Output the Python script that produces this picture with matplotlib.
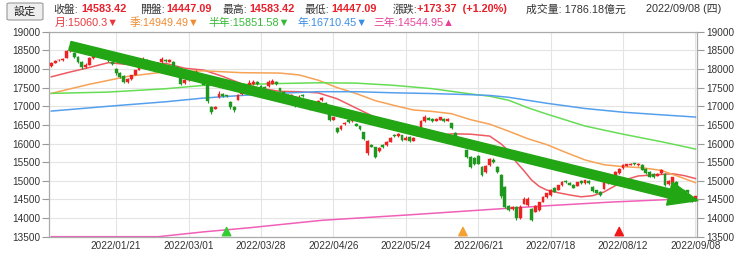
import numpy as np
import matplotlib
matplotlib.use("Agg")
import matplotlib.pyplot as plt
from matplotlib.patches import FancyBboxPatch

plt.rcParams['font.family'] = ['Liberation Sans', 'Noto Sans CJK TC', 'DejaVu Sans']

# daily candles, 2022/01 .. 2022/09/08
opens = [18080, 18170, 18230, 18240, 18300, 18480, 18420, 18330, 18200, 18050,
         18120, 18300, 18420, 18370, 18450, 18300, 18200, 18000, 17900, 17820,
         17660, 17720, 17850, 17980, 18160, 18240, 18180, 18100, 18070, 18180,
         18250, 18200, 18200, 18060, 17850, 17620, 17700, 17790, 17860, 17870,
         17800, 17570, 16980, 16930, 17240, 17320, 17290, 17120, 16980, 17180,
         17320, 17460, 17560, 17600, 17640, 17550, 17510, 17540, 17600, 17650,
         17480, 17390, 17290, 17250, 17250, 17190, 17310, 17120, 17020, 16980,
         17080, 17160, 17100, 16780, 16640, 16420, 16380, 16520, 16620, 16600,
         16520, 16460, 16300, 15750, 15960, 15900, 15800, 15960, 15950, 16050,
         16230, 16190, 16220, 16100, 16170, 16080, 16200, 16360, 16600, 16690,
         16650, 16610, 16640, 16660, 16610, 16540, 16280, 16090, 16050, 15820,
         15640, 15620, 15660, 15370, 15240, 15420, 15560, 15370, 15150, 14830,
         14330, 14230, 14300, 14000, 14390, 14350, 14250, 14170, 14220, 14440,
         14560, 14620, 14800, 14760, 14890, 14990, 14950, 14900, 14870, 15000,
         14940, 15000, 14830, 14740, 14700, 14790, 14930, 14980, 15100, 15200,
         15330, 15410, 15430, 15470, 15430, 15420, 15320, 15240, 15180, 15140,
         15200, 15190, 14920, 14920, 14970, 14790, 14740, 14740, 14550, 14447.09]
closes = [18170, 18220, 18250, 18270, 18470, 18580, 18330, 18180, 18040, 18110,
          18290, 18400, 18380, 18340, 18320, 18230, 18140, 17880, 17790, 17660,
          17720, 17830, 17960, 18150, 18260, 18200, 18100, 18060, 18160, 18280,
          18210, 18240, 18060, 17900, 17600, 17700, 17780, 17850, 17930, 17800,
          17580, 17150, 16850, 16990, 17330, 17280, 17270, 16970, 16900, 17300,
          17450, 17560, 17630, 17660, 17600, 17440, 17480, 17660, 17690, 17590,
          17420, 17290, 17250, 17310, 17010, 17260, 17280, 17040, 16930, 17060,
          17150, 17210, 17060, 16640, 16700, 16300, 16460, 16560, 16570, 16660,
          16480, 16380, 16120, 16060, 15920, 15650, 15880, 15910, 16050, 16150,
          16190, 16260, 16100, 16160, 16060, 16160, 16310, 16600, 16720, 16640,
          16600, 16660, 16700, 16600, 16660, 16420, 16150, 16040, 15960, 15650,
          15380, 15450, 15460, 15160, 15400, 15590, 15510, 15240, 14580, 14300,
          14220, 14300, 14000, 14310, 14520, 14520, 13950, 14330, 14420, 14560,
          14660, 14740, 14710, 14880, 14970, 14960, 14900, 14820, 14960, 14940,
          15010, 14930, 14720, 14680, 14630, 14960, 15000, 15070, 15230, 15320,
          15420, 15440, 15460, 15440, 15460, 15300, 15210, 15110, 15100, 15190,
          15300, 14880, 14990, 15090, 14790, 14700, 14670, 14690, 14440, 14583.42]
highs = [18200, 18240, 18270, 18290, 18500, 18620, 18450, 18360, 18220, 18150,
         18310, 18420, 18470, 18400, 18520, 18330, 18220, 18020, 17930, 17840,
         17750, 17850, 17980, 18180, 18320, 18260, 18200, 18140, 18180, 18320,
         18270, 18260, 18220, 18080, 17870, 17740, 17820, 17880, 17960, 17900,
         17820, 17590, 17000, 17020, 17420, 17350, 17310, 17140, 17000, 17340,
         17500, 17590, 17700, 17700, 17680, 17570, 17530, 17700, 17720, 17670,
         17500, 17410, 17320, 17330, 17270, 17290, 17340, 17140, 17040, 17080,
         17170, 17240, 17120, 16800, 16720, 16440, 16490, 16580, 16640, 16700,
         16540, 16480, 16320, 16100, 15980, 15920, 15900, 15980, 16080, 16180,
         16250, 16290, 16240, 16190, 16190, 16180, 16340, 16640, 16760, 16710,
         16680, 16680, 16720, 16680, 16680, 16560, 16300, 16110, 16080, 15840,
         15660, 15640, 15690, 15390, 15430, 15620, 15600, 15390, 15170, 14850,
         14350, 14330, 14320, 14340, 14560, 14560, 14270, 14350, 14440, 14580,
         14680, 14770, 14830, 14900, 14990, 15010, 14970, 14920, 14980, 15030,
         15030, 15020, 14850, 14760, 14720, 14980, 15020, 15090, 15250, 15340,
         15440, 15460, 15480, 15490, 15480, 15440, 15340, 15260, 15200, 15210,
         15320, 15210, 15010, 15110, 14990, 14810, 14760, 14760, 14570, 14583.42]
lows = [18060, 18150, 18210, 18220, 18290, 18460, 18300, 18150, 18000, 18020,
        18100, 18280, 18350, 18320, 18300, 18200, 18100, 17850, 17760, 17620,
        17630, 17700, 17830, 17960, 18150, 18160, 18060, 18030, 18060, 18170,
        18180, 18190, 18040, 17870, 17560, 17600, 17690, 17780, 17850, 17780,
        17560, 17100, 16780, 16920, 17220, 17240, 17250, 16930, 16850, 17160,
        17300, 17440, 17540, 17580, 17570, 17420, 17460, 17520, 17590, 17560,
        17390, 17260, 17220, 17230, 16990, 17170, 17260, 17010, 16890, 16960,
        17060, 17140, 17040, 16600, 16620, 16280, 16360, 16500, 16540, 16590,
        16460, 16350, 16090, 15700, 15900, 15620, 15780, 15880, 15940, 16040,
        16170, 16180, 16060, 16090, 16030, 16070, 16190, 16340, 16580, 16620,
        16580, 16600, 16620, 16580, 16600, 16400, 16100, 16010, 15940, 15620,
        15350, 15420, 15440, 15120, 15220, 15400, 15490, 15220, 14540, 14270,
        14180, 14210, 13960, 13970, 14370, 14330, 13920, 14150, 14200, 14420,
        14540, 14600, 14690, 14740, 14870, 14930, 14880, 14800, 14850, 14920,
        14920, 14910, 14700, 14660, 14600, 14770, 14910, 14960, 15080, 15190,
        15310, 15400, 15420, 15420, 15410, 15280, 15190, 15090, 15080, 15120,
        15180, 14860, 14900, 14900, 14770, 14680, 14650, 14670, 14420, 14447.09]

# moving averages, sampled at bar indices
ma_m_idx = [0, 5, 10, 15, 20, 25, 30, 35, 40, 45, 50, 55, 60, 65, 70, 75, 80, 85, 90, 95,
            100, 105, 110, 115, 118, 120, 122, 124, 126, 128, 130, 133, 136, 139, 142,
            145, 148, 151, 154, 157, 160, 163, 166, 169]
ma_m = [17790, 17920, 18040, 18170, 18120, 18120, 18150, 18020, 17970, 17800, 17600, 17480,
        17400, 17390, 17360, 17200, 16950, 16700, 16430, 16250, 16180, 16260, 16250, 16200,
        15990, 15800, 15500, 15270, 15020, 14850, 14750, 14680, 14620, 14570, 14600, 14700,
        14870, 15040, 15130, 15150, 15170, 15190, 15140, 15060.3]
ma_q_idx = [0, 10, 20, 30, 40, 50, 60, 65, 70, 75, 80, 85, 90, 95, 100, 105, 110, 115, 120,
            125, 130, 135, 140, 145, 150, 155, 160, 165, 169]
ma_q = [17345, 17590, 17800, 17925, 17950, 17900, 17890, 17840, 17700, 17500, 17340, 17150,
        17020, 16900, 16860, 16800, 16640, 16520, 16330, 16130, 15970, 15760, 15560, 15430,
        15380, 15350, 15280, 15100, 14949.49]
ma_h_idx = [0, 15, 30, 40, 50, 60, 70, 80, 90, 100, 110, 115, 120, 125, 130, 140, 150, 160, 169]
ma_h = [17345, 17380, 17470, 17560, 17580, 17610, 17630, 17620, 17560, 17470, 17330, 17270,
        17160, 16960, 16790, 16470, 16250, 16050, 15851.58]
ma_y_idx = [0, 15, 30, 40, 50, 60, 70, 80, 90, 100, 110, 115, 120, 125, 130, 140, 150, 160, 169]
ma_y = [16870, 17000, 17120, 17220, 17290, 17350, 17390, 17390, 17360, 17340, 17310, 17290,
        17240, 17160, 17080, 16940, 16840, 16770, 16710.45]
ma_3y_idx = [0, 15, 28, 40, 52, 71, 93, 115, 130, 147, 165, 169]
ma_3y = [13300, 13410, 13500, 13630, 13740, 13940, 14080, 14230, 14330, 14430, 14510, 14544.95]

tick_idx = [17, 36, 55, 74, 93, 112, 131, 150, 169]
tick_labels = ['2022/01/21', '2022/03/01', '2022/03/28', '2022/04/26', '2022/05/24',
               '2022/06/21', '2022/07/18', '2022/08/12', '2022/09/08']
mark_idx = [46, 108, 149]
mark_colors = ['#33cc33', '#f5a030', '#f01818']

W, H = 740, 254
fig = plt.figure(figsize=(W / 100, H / 100), dpi=100)
ax = fig.add_axes([49 / W, 17.3 / H, 648 / W, 205 / H])

o = np.array(opens)
c = np.array(closes)
hi = np.array(highs)
lo = np.array(lows)
x = np.arange(len(o))
up = c >= o
col = np.where(up, '#ee2222', '#1e981e')

ax.vlines(x, lo, hi, colors=col, linewidth=0.8, zorder=3)
ax.bar(x, np.maximum(np.abs(c - o), 8), bottom=np.minimum(o, c), width=0.75,
       color=col, edgecolor=col, linewidth=0.3, zorder=4)

ax.plot(ma_m_idx, ma_m, color='#ee5a62', lw=1.1, zorder=2)
ax.plot(ma_q_idx, ma_q, color='#f7a255', lw=1.1, zorder=2)
ax.plot(ma_h_idx, ma_h, color='#66dd55', lw=1.1, zorder=2)
ax.plot(ma_y_idx, ma_y, color='#55a0ee', lw=1.1, zorder=2)
ax.plot(ma_3y_idx, np.clip(ma_3y, 13500, None), color='#f060b8', lw=1.1, zorder=2)

ax.scatter(mark_idx, [0.025] * 3, marker='^', s=36, c=mark_colors,
           transform=ax.get_xaxis_transform(), zorder=6, clip_on=False)

# trend arrow
ax.annotate('', xy=(169.6, 14470), xytext=(4.9, 18620),
            arrowprops=dict(width=6.5, headwidth=17, headlength=21,
                            facecolor='#22a614', edgecolor='#22a614'),
            zorder=7, annotation_clip=False)

ax.set_xlim(-0.6, 169.4)
ax.set_ylim(13500, 19000)
ax.set_yticks(np.arange(13500, 19001, 500))
ax.set_xticks(tick_idx)
ax.set_xticklabels(tick_labels)
ax.grid(True, color='#e4e4e4', lw=0.8, zorder=0)
ax.set_axisbelow(True)
ax.tick_params(axis='both', labelsize=7.2, colors='#999999', labelcolor='#333333',
               length=5, width=0.8, pad=1.5)
ax.tick_params(axis='y', right=True, labelright=True)
ax.tick_params(axis='x', length=0, pad=3)
for s in ax.spines.values():
    s.set_color('#aaaaaa')
    s.set_linewidth(0.9)

# header
def fx(px):
    return px / W

def fy(py):
    return 1 - py / H

btn = FancyBboxPatch((fx(7), fy(20)), fx(36), 17 / H, boxstyle='round,pad=0,rounding_size=0.004',
                     transform=fig.transFigure, facecolor='#eeeeee', edgecolor='#9a9a9a', lw=0.8)
fig.patches.append(btn)
fig.text(fx(25), fy(11.5), '設定', ha='center', va='center', fontsize=8.0, color='#222222')

dark = '#333333'
red = '#e8202a'
row1 = [(53, '收盤:', dark, 'normal'), (81.5, '14583.42', red, 'bold'),
        (140, '開盤:', dark, 'normal'), (166, '14447.09', red, 'bold'),
        (222.5, '最高:', dark, 'normal'), (249, '14583.42', red, 'bold'),
        (305, '最低:', dark, 'normal'), (331.5, '14447.09', red, 'bold'),
        (392.5, '漲跌:', dark, 'normal'), (417, '+173.37  (+1.20%)', red, 'bold'),
        (526.5, '成交量: 1786.18億元', dark, 'normal'), (646.5, '2022/09/08 (四)', dark, 'normal')]
for px, t, cl, wt in row1:
    fig.text(fx(px), fy(9.5), t, ha='left', va='center', fontsize=7.8, color=cl, fontweight=wt)

row2 = [(55, '月:15060.3▼', '#e8383d'), (130, '季:14949.49▼', '#f08a30'),
        (208, '半年:15851.58▼', '#33bb33'), (297, '年:16710.45▼', '#3a8ee6'),
        (373, '三年:14544.95▲', '#e8409a')]
for px, t, cl in row2:
    fig.text(fx(px), fy(23), t, ha='left', va='center', fontsize=7.8, color=cl)

fig.savefig('out.png', dpi=100)
